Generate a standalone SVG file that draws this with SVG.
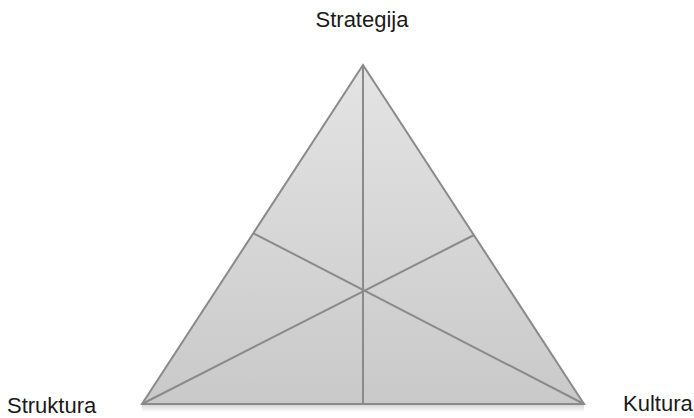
<svg xmlns="http://www.w3.org/2000/svg" width="694" height="418" viewBox="0 0 694 418">
<defs>
<linearGradient id="fillGrad" x1="0" y1="0" x2="0" y2="1">
<stop offset="0" stop-color="#e4e4e4"/>
<stop offset="1" stop-color="#c9c9c9"/>
</linearGradient>
<linearGradient id="shadowGrad" x1="0" y1="0" x2="0" y2="1">
<stop offset="0" stop-color="#000" stop-opacity="0.18"/>
<stop offset="1" stop-color="#000" stop-opacity="0"/>
</linearGradient>
<style>
.lbl{font-family:"Liberation Sans",Arial,sans-serif;font-size:22px;fill:#1a1a1a}
.edge{stroke:#8a8a8a;stroke-width:2;fill:none}
</style>
</defs>
<rect width="694" height="418" fill="#fff"/>
<g id="triangle">
<rect x="142" y="404" width="442" height="8" fill="url(#shadowGrad)"/>
<polygon points="363,65 142,404 584,404" fill="url(#fillGrad)" stroke="#8a8a8a" stroke-width="2" stroke-linejoin="miter"/>
</g>
<g id="connectors">
<line class="edge" x1="363" y1="65" x2="363" y2="404"/>
<line class="edge" x1="142" y1="404" x2="474" y2="235"/>
<line class="edge" x1="584" y1="404" x2="253" y2="233"/>
</g>
<g id="strategija"><text class="lbl" x="362" y="27" text-anchor="middle">Strategija</text></g>
<g id="struktura"><text class="lbl" x="7" y="413">Struktura</text></g>
<g id="kultura"><text class="lbl" x="623" y="411">Kultura</text></g>
</svg>
